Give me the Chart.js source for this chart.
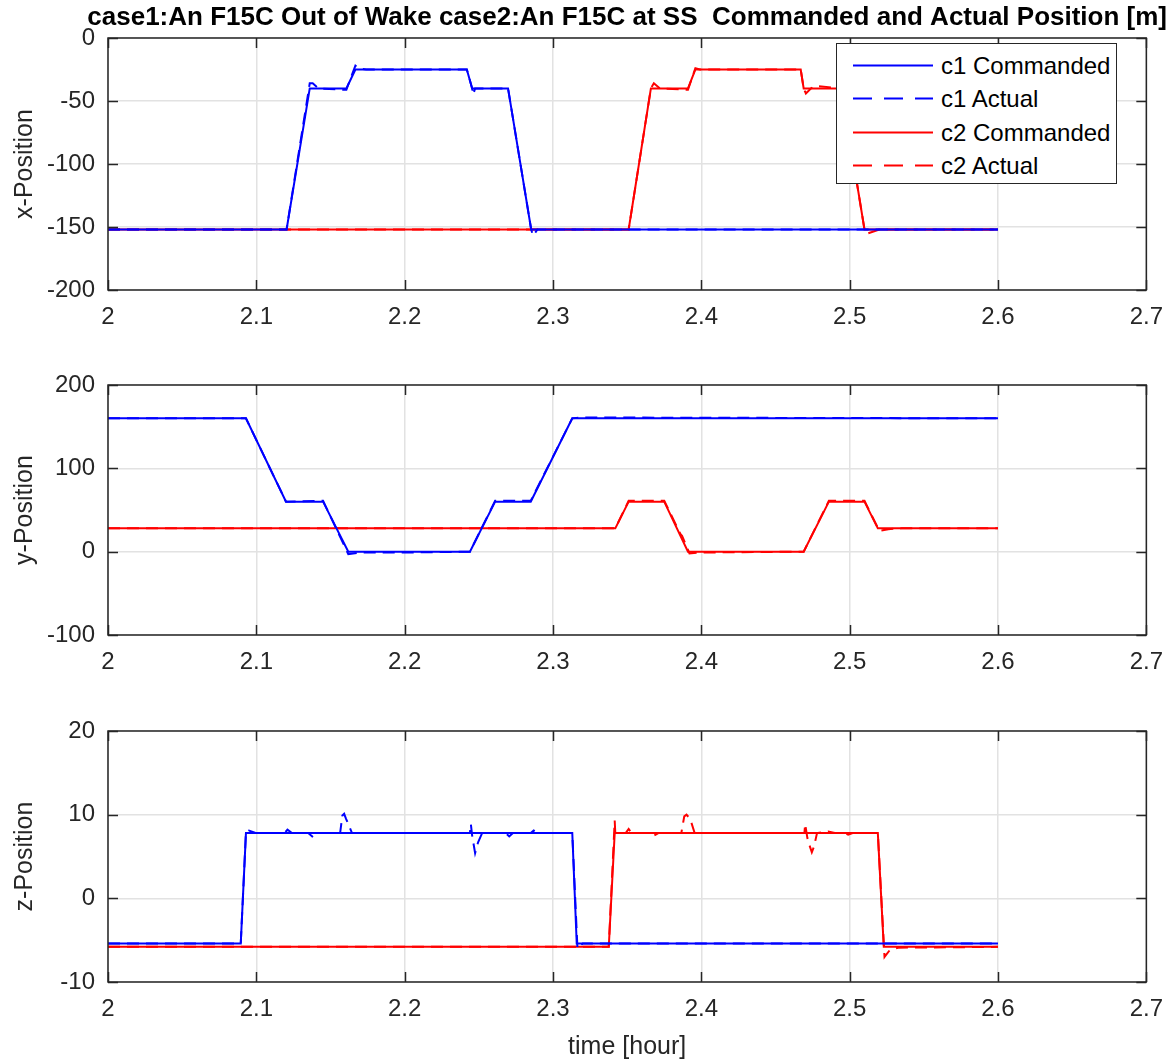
<!DOCTYPE html>
<html><head><meta charset="utf-8">
<script src="https://cdn.jsdelivr.net/npm/chart.js@4.4.1/dist/chart.umd.min.js"></script>
<style>
body{margin:0;background:#fff;width:1176px;height:1063px;position:relative;overflow:hidden;font-family:'Liberation Sans',Arial,sans-serif;}
canvas{position:absolute;left:0;}
#legend{position:absolute;left:836px;top:43px;width:279px;height:139px;border:1.5px solid #262626;background:#fff;z-index:5;}
.item{position:absolute;left:0;height:33px;width:279px;font-size:24px;color:#000;}
.item svg{position:absolute;left:15px;top:0;}
.item span{position:absolute;left:104px;top:2px;line-height:29px;white-space:nowrap;}
</style></head><body>
<canvas id="cx" width="1176" height="345" style="top:0px;width:1176px;height:345px"></canvas>
<canvas id="cy" width="1176" height="345" style="top:345px;width:1176px;height:345px"></canvas>
<canvas id="cz" width="1176" height="373" style="top:690px;width:1176px;height:373px"></canvas>
<div id="legend"></div>
<script>
// ---------- text ----------
const chartTitle = 'case1:An F15C Out of Wake case2:An F15C at SS  Commanded and Actual Position [m]';
const xAxisTitle = 'time [hour]';
const yTitles = ['x-Position', 'y-Position', 'z-Position'];
const legendLabels = ['c1 Commanded', 'c1 Actual', 'c2 Commanded', 'c2 Actual'];

// ---------- tick labels ----------
const timeTicks = [2, 2.1, 2.2, 2.3, 2.4, 2.5, 2.6, 2.7];
const timeTickLabels = ['2', '2.1', '2.2', '2.3', '2.4', '2.5', '2.6', '2.7'];
const xPosTicks = [-200, -150, -100, -50, 0];
const yPosTicks = [-100, 0, 100, 200];
const zPosTicks = [-10, 0, 10, 20];

// ---------- x-Position ----------
const c1xCmdT = [2.0, 2.1204, 2.136, 2.1607, 2.1668, 2.2419, 2.2455, 2.2697, 2.2853, 2.6];
const c1xCmdV = [-152, -152, -40, -40, -25, -25, -40, -40, -152, -152];
const c1xActT = [2.0, 2.1204, 2.136, 2.138, 2.142, 2.158, 2.1607, 2.1668, 2.169, 2.174, 2.2419, 2.2455, 2.2462, 2.2475, 2.2697, 2.2853, 2.2866, 2.2895, 2.6];
const c1xActV = [-152, -152, -36, -36, -40, -41, -41, -22, -24, -25, -25, -40, -45, -40, -40, -152, -157, -152, -152];
const c2xCmdT = [2.0, 2.351, 2.366, 2.391, 2.396, 2.467, 2.469, 2.4945, 2.51, 2.6];
const c2xCmdV = [-152, -152, -40, -40, -25, -25, -40, -40, -152, -152];
const c2xActT = [2.0, 2.351, 2.366, 2.368, 2.372, 2.389, 2.391, 2.396, 2.399, 2.467, 2.469, 2.4705, 2.474, 2.477, 2.4945, 2.51, 2.5125, 2.52, 2.6];
const c2xActV = [-152, -152, -40, -36, -40, -41, -41, -24, -25, -25, -40, -44, -40, -38, -40, -152, -155, -152, -152];

// ---------- y-Position ----------
const c1yCmdT = [2.0, 2.093, 2.120, 2.145, 2.162, 2.244, 2.261, 2.285, 2.313, 2.6];
const c1yCmdV = [160, 160, 60, 60, 0, 0, 60, 60, 160, 160];
const c1yActT = [2.0, 2.093, 2.120, 2.145, 2.162, 2.170, 2.200, 2.244, 2.261, 2.285, 2.313, 2.320, 2.6];
const c1yActV = [160, 160, 60, 61, -3, -1, -1, 0, 61, 61, 160, 161, 160];
const c2yCmdT = [2.0, 2.342, 2.351, 2.375, 2.391, 2.469, 2.486, 2.510, 2.519, 2.6];
const c2yCmdV = [28, 28, 60, 60, 0, 0, 60, 60, 28, 28];
const c2yActT = [2.0, 2.342, 2.351, 2.375, 2.386, 2.387, 2.392, 2.400, 2.469, 2.486, 2.510, 2.520, 2.526, 2.535, 2.6];
const c2yActV = [28, 28, 61, 61, 21, 19, -2, -1, 0, 61, 61, 25, 27, 28, 28];

// ---------- z-Position ----------
const c1zCmdT = [2.0, 2.0895, 2.093, 2.313, 2.316, 2.6];
const c1zCmdV = [-5.4, -5.4, 7.8, 7.8, -5.4, -5.4];
const c1zActT = [2.0, 2.0895, 2.093, 2.095, 2.100, 2.119, 2.121, 2.124, 2.135, 2.1377, 2.141, 2.1565, 2.158, 2.1592, 2.1605, 2.1645, 2.244, 2.2446, 2.2455, 2.2475, 2.2495, 2.2525, 2.255, 2.268, 2.2705, 2.273, 2.285, 2.287, 2.290, 2.313, 2.3165, 2.320, 2.6];
const c1zActV = [-5.4, -5.4, 7.9, 8.1, 7.8, 7.8, 8.2, 7.8, 7.8, 7.4, 7.8, 7.8, 9.9, 10.1, 9.5, 7.8, 7.8, 8.9, 7.5, 5.4, 6.7, 7.9, 7.8, 7.8, 7.4, 7.8, 7.8, 8.1, 7.8, 7.8, -6.0, -5.4, -5.4];
const c2zCmdT = [2.0, 2.3376, 2.3416, 2.519, 2.523, 2.6];
const c2zCmdV = [-5.8, -5.8, 7.8, 7.8, -5.8, -5.8];
const c2zActT = [2.0, 2.3376, 2.3416, 2.342, 2.349, 2.351, 2.353, 2.365, 2.368, 2.371, 2.3865, 2.3885, 2.3900, 2.3925, 2.3955, 2.4695, 2.4700, 2.4715, 2.473, 2.4745, 2.476, 2.478, 2.4855, 2.490, 2.497, 2.499, 2.502, 2.519, 2.5235, 2.527, 2.5326, 2.6];
const c2zActV = [-5.8, -5.8, 9.3, 7.8, 7.8, 8.3, 7.8, 7.8, 7.5, 7.8, 7.8, 9.8, 10.0, 9.5, 7.8, 7.8, 8.9, 7.2, 6.3, 5.5, 6.2, 7.8, 8.0, 7.8, 7.8, 7.6, 7.8, 7.8, -7.0, -6.2, -5.9, -5.8];

// ---------- styling ----------
const BLUE = '#0000ff', RED = '#ff0000', AXIS = '#262626', GRID = '#e2e2e2';
const FONT = "'Liberation Sans', Arial, sans-serif";
const DASH = [12, 7];

function pts(t, v) { return t.map((x, i) => ({ x: x, y: v[i] })); }
function ds(label, t, v, color, dashed) {
  return { label: label, data: pts(t, v), borderColor: color, backgroundColor: color,
    borderWidth: 2, borderDash: dashed ? DASH : [], pointRadius: 0, tension: 0, fill: false };
}

const boxPlugin = {
  id: 'boxTicks',
  afterLayout(chart) {
    // let the title extend a little beyond the axes box (it is centred over the axes)
    if (chart.titleBlock && chart.options.plugins.title.display) {
      chart.titleBlock.left = chart.chartArea.left - 60;
      chart.titleBlock.right = chart.chartArea.right + 60;
      chart.titleBlock.width = chart.titleBlock.right - chart.titleBlock.left;
    }
  },
  afterDraw(chart) {
    const { ctx, chartArea: a, scales } = chart;
    ctx.save();
    ctx.strokeStyle = AXIS; ctx.lineWidth = 1.5; ctx.setLineDash([]);
    ctx.beginPath();
    scales.x.ticks.forEach(t => {
      const px = Math.round(scales.x.getPixelForValue(t.value)) + 0.5;
      ctx.moveTo(px, a.bottom); ctx.lineTo(px, a.bottom - 10);
      ctx.moveTo(px, a.top); ctx.lineTo(px, a.top + 10);
    });
    scales.y.ticks.forEach(t => {
      const py = Math.round(scales.y.getPixelForValue(t.value)) + 0.5;
      ctx.moveTo(a.left, py); ctx.lineTo(a.left + 10, py);
      ctx.moveTo(a.right, py); ctx.lineTo(a.right - 10, py);
    });
    ctx.stroke();
    ctx.strokeRect(a.left, a.top, a.right - a.left, a.bottom - a.top);
    ctx.restore();
  }
};

function makeChart(id, datasets, yTicks, yTitle, opts) {
  const ctx = document.getElementById(id);
  return new Chart(ctx, {
    type: 'line',
    data: { datasets: datasets },
    plugins: [boxPlugin],
    options: {
      responsive: false, animation: false, devicePixelRatio: 1,
      layout: { padding: { top: opts.padTop, left: 0, right: 27, bottom: 0 } },
      plugins: {
        legend: { display: false },
        tooltip: { enabled: false },
        title: opts.title ? {
          display: true, text: chartTitle, fullSize: false, color: '#000',
          font: { family: FONT, size: 26, weight: 'bold', lineHeight: 1.2 },
          padding: { top: 2.5, bottom: 4.3 }
        } : { display: false }
      },
      scales: {
        x: {
          type: 'linear', min: timeTicks[0], max: timeTicks[timeTicks.length - 1],
          afterFit: s => { s.height = opts.xHeight; },
          afterBuildTicks: s => { s.ticks = timeTicks.map(v => ({ value: v })); },
          ticks: { callback: (v, i) => timeTickLabels[i], color: AXIS, padding: 13, maxRotation: 0, autoSkip: false,
                   font: { family: FONT, size: 24 } },
          grid: { color: GRID, lineWidth: 1.5, drawTicks: false },
          border: { display: false },
          title: opts.xTitle ? { display: true, text: xAxisTitle, color: AXIS,
                   font: { family: FONT, size: 25, lineHeight: 1.2 }, padding: { top: 0, bottom: 1 } } : { display: false }
        },
        y: {
          type: 'linear', min: yTicks[0], max: yTicks[yTicks.length - 1],
          afterFit: s => { s.width = 108; },
          afterBuildTicks: s => { s.ticks = yTicks.map(v => ({ value: v })); },
          ticks: { callback: (v, i) => String(yTicks[i]), color: AXIS, padding: 13, autoSkip: false,
                   font: { family: FONT, size: 24 } },
          grid: { color: GRID, lineWidth: 1.5, drawTicks: false },
          border: { display: false },
          title: { display: true, text: yTitle, color: AXIS,
                   font: { family: FONT, size: 25, lineHeight: 1.2 }, padding: { top: 10, bottom: 0 } }
        }
      }
    }
  });
}

makeChart('cx', [
  ds(legendLabels[0], c1xCmdT, c1xCmdV, BLUE, false),
  ds(legendLabels[1], c1xActT, c1xActV, BLUE, true),
  ds(legendLabels[2], c2xCmdT, c2xCmdV, RED, false),
  ds(legendLabels[3], c2xActT, c2xActV, RED, true)
], xPosTicks, yTitles[0], { padTop: 0, xHeight: 55, title: true });

makeChart('cy', [
  ds(legendLabels[0], c1yCmdT, c1yCmdV, BLUE, false),
  ds(legendLabels[1], c1yActT, c1yActV, BLUE, true),
  ds(legendLabels[2], c2yCmdT, c2yCmdV, RED, false),
  ds(legendLabels[3], c2yActT, c2yActV, RED, true)
], yPosTicks, yTitles[1], { padTop: 40, xHeight: 55 });

makeChart('cz', [
  ds(legendLabels[0], c1zCmdT, c1zCmdV, BLUE, false),
  ds(legendLabels[1], c1zActT, c1zActV, BLUE, true),
  ds(legendLabels[2], c2zCmdT, c2zCmdV, RED, false),
  ds(legendLabels[3], c2zActT, c2zActV, RED, true)
], zPosTicks, yTitles[2], { padTop: 41, xHeight: 81, xTitle: true });

// ---------- legend (HTML, real text) ----------
const legendColors = [BLUE, BLUE, RED, RED];
const legendDashed = [false, true, false, true];
const rowTops = [5, 38, 72, 105];
const leg = document.getElementById('legend');
legendLabels.forEach((lab, i) => {
  const d = document.createElement('div');
  d.className = 'item';
  d.style.top = rowTops[i] + 'px';
  d.innerHTML = '<svg width="82" height="33"><line x1="1" y1="16.5" x2="81" y2="16.5" stroke="' + legendColors[i] +
    '" stroke-width="2" ' + (legendDashed[i] ? 'stroke-dasharray="19 12"' : '') + '/></svg><span></span>';
  d.querySelector('span').textContent = lab;
  leg.appendChild(d);
});
</script>
</body></html>
